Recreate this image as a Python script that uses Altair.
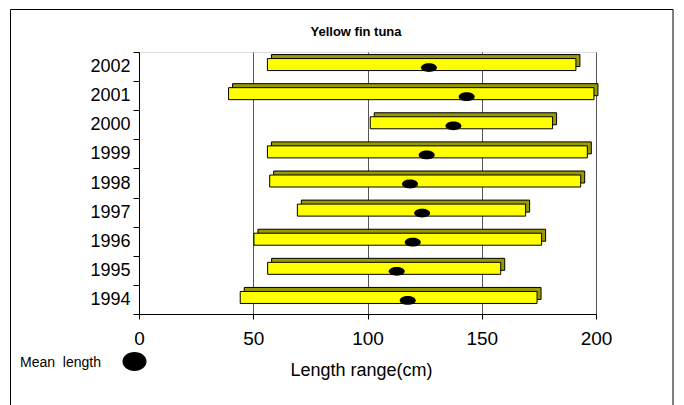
import altair as alt
import pandas as pd

years = [1994, 1995, 1996, 1997, 1998, 1999, 2000, 2001, 2002]
low = [44.3, 56.3, 50.3, 69.3, 57.2, 56.2, 101.2, 39.2, 56.2]
high = [174.2, 158.3, 176.2, 169.2, 193.3, 196.2, 181.0, 199.1, 191.2]
mean = [117.6, 112.8, 119.8, 123.9, 118.6, 125.9, 137.6, 143.4, 126.9]
x_ticks = [0, 50, 100, 150, 200]

df = pd.DataFrame({"year": [str(y) for y in years], "low": low, "high": high, "mean": mean})
order = [str(y) for y in reversed(years)]

FONT = "Liberation Sans"

yenc = alt.Y(
    "year:N",
    sort=order,
    scale=alt.Scale(paddingInner=0, paddingOuter=0),
    axis=alt.Axis(
        title=None, tickBand="extent", tickSize=6, tickColor="black",
        domainColor="black", labelFontSize=18, labelColor="black",
        labelPadding=3, labelFont=FONT, grid=False,
    ),
)
xenc = alt.X(
    "low:Q",
    scale=alt.Scale(domain=[0, 200], nice=False),
    axis=alt.Axis(
        values=x_ticks, grid=True, gridColor="#555555", gridWidth=1,
        tickSize=5, tickColor="black", domainColor="black", labelFlush=False,
        labelFontSize=19, labelColor="black", labelPadding=10, labelFont=FONT,
        title="Length range(cm)", titleFontSize=18, titleFontWeight="normal",
        titleFont=FONT, titleColor="black", titleX=222, titleY=56,
        titleBaseline="middle", titleAnchor="middle", titleAlign="center",
    ),
)

base = alt.Chart(df)

back = base.mark_bar(
    size=12, xOffset=4, x2Offset=4, yOffset=-6, color="#999900",
    stroke="black", strokeWidth=1
).encode(x=xenc, x2="high:Q", y=yenc)

front = base.mark_bar(
    size=12, yOffset=-2, color="#ffff00", stroke="black", strokeWidth=1
).encode(x="low:Q", x2="high:Q", y=alt.Y("year:N", sort=order))

ellipse = "M-1,0 A1,0.55 0 1,0 1,0 A1,0.55 0 1,0 -1,0 Z"
means = base.mark_point(
    shape=ellipse, size=256, filled=True, color="black", opacity=1, yOffset=1
).encode(x="mean:Q", y=alt.Y("year:N", sort=order))

one = alt.Data(values=[{"k": 1}])

title = alt.Chart(one).mark_text(
    text="Yellow fin tuna", font=FONT, fontSize=13, fontWeight="bold",
    color="black", align="center", baseline="middle"
).encode(x=alt.value(217), y=alt.value(-20))

legend_text = alt.Chart(one).mark_text(
    text="Mean\u00a0 length", font=FONT, fontSize=14, color="black",
    align="left", baseline="middle"
).encode(x=alt.value(-119), y=alt.value(311))

legend_ell = "M-1,0 A1,0.79 0 1,0 1,0 A1,0.79 0 1,0 -1,0 Z"
legend_sym = alt.Chart(one).mark_point(
    shape=legend_ell, size=576, filled=True, color="black", opacity=1
).encode(x=alt.value(-4.5), y=alt.value(309.5))

border = alt.Chart(one).mark_rect(
    fillOpacity=0, stroke="black", strokeWidth=1
).encode(x=alt.value(-128.5), x2=alt.value(534), y=alt.value(-42.5), y2=alt.value(400))

chart = alt.layer(back, front, means, title, legend_text, legend_sym, border).properties(
    width=457, height=262,
    padding={"left": 139, "top": 52, "right": 88, "bottom": 91},
    autosize=alt.AutoSizeParams(type="none"),
).configure_view(stroke=None).configure(font=FONT, background="white")

chart.save("out.html", embed_options={"renderer": "svg", "actions": False})
